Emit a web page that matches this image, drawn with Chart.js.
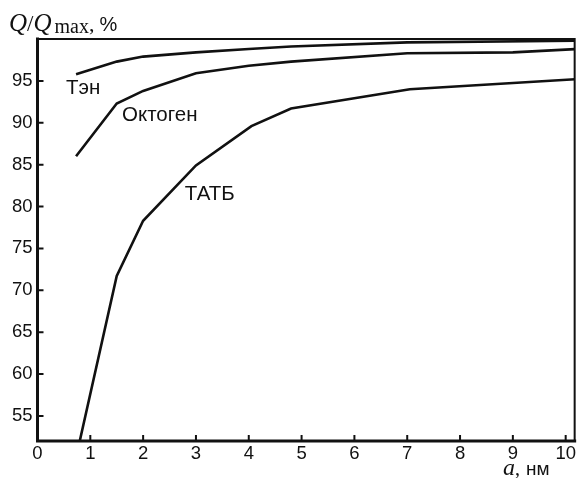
<!DOCTYPE html>
<html>
<head>
<meta charset="utf-8">
<script src="https://cdn.jsdelivr.net/npm/chart.js@4/dist/chart.umd.min.js"></script>
<style>
  html, body { margin: 0; padding: 0; background: #fff; }
  canvas { display: block; }
</style>
</head>
<body>
<canvas id="chart" width="578" height="478"></canvas>
<script>
// curves: a (nm) vs Q/Qmax (%)
const tenX  = [0.73, 1.5, 2.0, 3.0, 4.0, 4.8, 7.0, 10.2];
const tenY  = [95.8, 97.3, 97.9, 98.4, 98.8, 99.1, 99.6, 99.8];
const octX  = [0.73, 1.5, 2.0, 3.0, 4.0, 4.8, 7.0, 9.0, 10.2];
const octY  = [86.0, 92.3, 93.8, 95.9, 96.8, 97.3, 98.3, 98.4, 98.8];
const tatbX = [0.8, 1.5, 2.0, 3.0, 4.05, 4.8, 7.05, 10.2];
const tatbY = [52.0, 71.7, 78.3, 84.9, 89.6, 91.7, 94.0, 95.2];

const xTicks = [0, 1, 2, 3, 4, 5, 6, 7, 8, 9, 10];
const yTicks = [55, 60, 65, 70, 75, 80, 85, 90, 95];

// curve names, placed in data units
const curveNames = ['Тэн', 'Октоген', 'ТАТБ'];
const nameX = [0.54, 1.6, 2.79];
const nameY = [94.1, 90.9, 81.4];

const pts = (xs, ys) => xs.map((x, i) => ({ x, y: ys[i] }));

const INK = '#111';
const SANS = '"Liberation Sans", Arial, sans-serif';
const SERIF = '"Liberation Serif", "Times New Roman", serif';

const line = (data) => ({
  data,
  showLine: true,
  borderColor: INK,
  borderWidth: 2.6,
  pointRadius: 0,
  tension: 0,
  fill: false,
});

// frame, inward ticks, titles and curve names
const decor = {
  id: 'decor',
  afterDraw(chart) {
    const { ctx, chartArea: a, scales: { x, y } } = chart;
    ctx.save();
    ctx.strokeStyle = INK;
    ctx.lineCap = 'square';

    ctx.lineWidth = 2;
    ctx.beginPath();
    ctx.moveTo(a.left, a.top); ctx.lineTo(a.right, a.top);
    ctx.moveTo(a.right, a.top); ctx.lineTo(a.right, a.bottom);
    ctx.stroke();

    ctx.lineWidth = 3;
    ctx.beginPath();
    ctx.moveTo(a.left, a.top); ctx.lineTo(a.left, a.bottom);
    ctx.lineTo(a.right, a.bottom);
    ctx.stroke();

    ctx.lineWidth = 2;
    ctx.lineCap = 'butt';
    ctx.beginPath();
    xTicks.forEach(v => {
      if (v === 0) return;
      const px = x.getPixelForValue(v);
      ctx.moveTo(px, a.bottom); ctx.lineTo(px, a.bottom - 6);
    });
    yTicks.forEach(v => {
      const py = y.getPixelForValue(v);
      ctx.moveTo(a.left, py); ctx.lineTo(a.left + 6, py);
    });
    ctx.stroke();

    ctx.fillStyle = INK;
    ctx.textBaseline = 'middle';
    ctx.textAlign = 'left';
    ctx.font = '20.5px ' + SANS;
    curveNames.forEach((t, i) => {
      ctx.fillText(t, x.getPixelForValue(nameX[i]), y.getPixelForValue(nameY[i]));
    });

    // y title: Q/Q_max, %
    ctx.textBaseline = 'alphabetic';
    let cx = 9;
    const put = (t, font, dy = 0) => {
      ctx.font = font;
      ctx.fillText(t, cx, 31 + dy);
      cx += ctx.measureText(t).width;
    };
    put('Q', 'italic 25px ' + SERIF);
    put('/', '23px ' + SERIF);
    put('Q', 'italic 25px ' + SERIF);
    cx += 3;
    put('max', '20px ' + SERIF, 2);
    put(',', '22px ' + SERIF);
    cx += 5;
    put('%', '20px ' + SANS);

    // x title: a, нм
    cx = 503;
    const putX = (t, font) => {
      ctx.font = font;
      ctx.fillText(t, cx, 475);
      cx += ctx.measureText(t).width;
    };
    putX('a', 'italic 24px ' + SERIF);
    putX(',', '20px ' + SERIF);
    cx += 6;
    putX('нм', '19px ' + SANS);
    ctx.restore();
  },
};

new Chart(document.getElementById('chart'), {
  type: 'scatter',
  data: {
    datasets: [line(pts(tenX, tenY)), line(pts(octX, octY)), line(pts(tatbX, tatbY))],
  },
  options: {
    responsive: false,
    animation: false,
    layout: { padding: { top: 39, right: 2, left: 0, bottom: 0 } },
    plugins: { legend: { display: false }, tooltip: { enabled: false } },
    scales: {
      x: {
        type: 'linear',
        min: 0, max: 10.17,
        afterBuildTicks: s => { s.ticks = xTicks.map(value => ({ value })); },
        afterFit: s => { s.height = 37; },
        grid: { display: false, drawTicks: false },
        border: { display: false },
        ticks: { color: INK, padding: 2, font: { family: SANS, size: 18.5 }, maxRotation: 0 },
      },
      y: {
        type: 'linear',
        min: 52, max: 100,
        afterBuildTicks: s => { s.ticks = yTicks.map(value => ({ value })); },
        afterFit: s => { s.width = 37.5; },
        grid: { display: false, drawTicks: false },
        border: { display: false },
        ticks: { color: INK, padding: 5, font: { family: SANS, size: 18.5 } },
      },
    },
  },
  plugins: [decor],
});
</script>
</body>
</html>
